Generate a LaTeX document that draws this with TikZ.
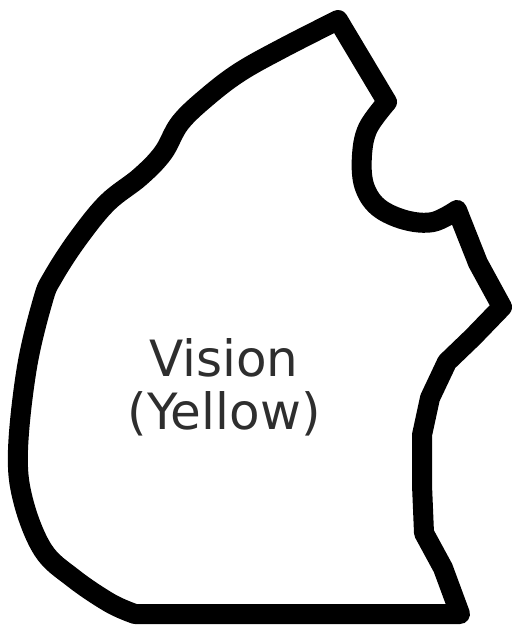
\documentclass[tikz,border=0pt]{standalone}
\usepackage{fontspec}
\newfontfamily\labelfont{DejaVu Sans}
\definecolor{labelgray}{HTML}{2E2E2E}
\tikzset{
  outline/.style={draw=black, line width=20pt, line join=round, line cap=round},
  regionlabel/.style={align=center, text=labelgray, inner sep=0pt,
    font=\labelfont\fontsize{50}{53}\selectfont}
}
\begin{document}
\begin{tikzpicture}[x=1pt, y=-1pt]
  % Page frame
  \useasboundingbox (0,0) rectangle (514,626);
  % Region outline
  \draw[outline] (338,20) -- (387,102)
    -- plot[smooth, tension=0.6] coordinates {(387,102) (368,128) (362,155)
      (364,185) (378,207) (405,220) (433,222) (457,210)}
    -- (478,263) -- (502,307)
    -- (473,337) -- (447,362) -- (430,398) -- (422,435) -- (422,485) -- (424,533)
    -- (443,568) -- (460,614) -- (135,614)
    -- plot[smooth, tension=0.6] coordinates {(135,614) (110,603) (73,578) (43,550)
      (23,500) (18,450) (27,367) (43,300) (53,277) (77,240) (107,203) (140,177)
      (163,153) (180,123) (207,97) (240,72) (283,48) (338,20)}
    -- cycle;
  % Label
  \node[regionlabel] (vision) at (224,387) {Vision\\(Yellow)};
\end{tikzpicture}
\end{document}
